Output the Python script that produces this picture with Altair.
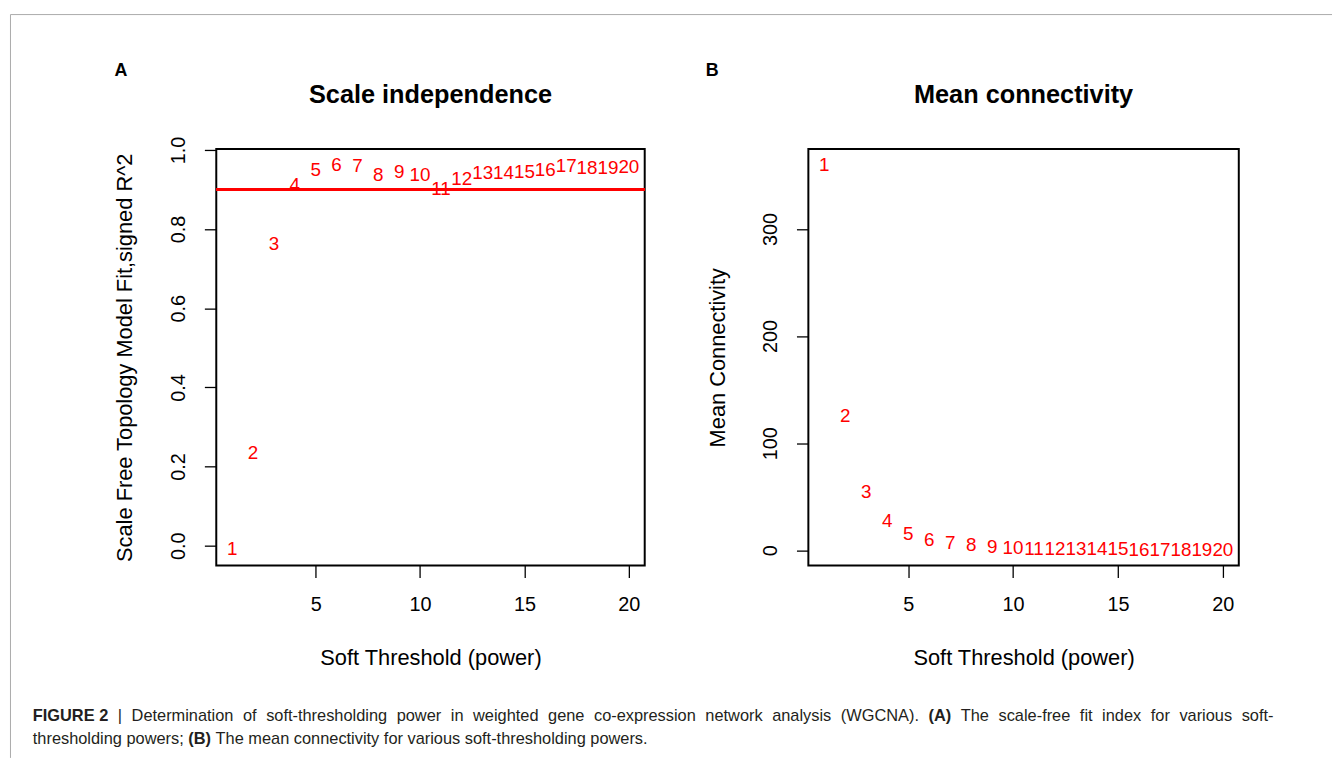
import altair as alt
import pandas as pd

# ---------------- data ----------------
powers = list(range(1, 21))
scale_free_r2 = [-0.008, 0.233, 0.762, 0.912, 0.950, 0.962, 0.960, 0.937, 0.945, 0.937,
                 0.900, 0.927, 0.942, 0.942, 0.945, 0.950, 0.960, 0.955, 0.955, 0.957]
mean_connectivity = [360, 125, 54, 27, 15.5, 10, 7, 4.5, 3, 2,
                     1.5, 1.2, 1.0, 0.8, 0.7, 0.6, 0.5, 0.4, 0.35, 0.3]
r2_cutoff = 0.9
x_ticks = [5, 10, 15, 20]
ya_ticks = [0.0, 0.2, 0.4, 0.6, 0.8, 1.0]
yb_ticks = [0, 100, 200, 300]
panel_tags = ["A", "B"]
panel_titles = ["Scale independence", "Mean connectivity"]
x_title = "Soft Threshold (power)"
ya_title = "Scale Free Topology Model Fit,signed R^2"
yb_title = "Mean Connectivity"
caption_line1 = [("FIGURE 2", True), ("|", False), ("Determination", False), ("of", False),
                 ("soft-thresholding", False), ("power", False), ("in", False), ("weighted", False),
                 ("gene", False), ("co-expression", False), ("network", False), ("analysis", False),
                 ("(WGCNA).", False), ("(A)", True), ("The", False), ("scale-free", False),
                 ("fit", False), ("index", False), ("for", False), ("various", False), ("soft-", False)]
caption_line2 = [("thresholding", False), ("powers;", False), ("(B)", True), ("The", False),
                 ("mean", False), ("connectivity", False), ("for", False), ("various", False),
                 ("soft-thresholding", False), ("powers.", False)]

# ---------------- layout ----------------
FONT = "Liberation Sans"
OX, OY = 217, 146          # page position of panel A plot area
WA, WB, H = 432, 434, 420
GAP = 165
RED = "#ff0000"

# Arial / Liberation Sans advance widths (per 1000 em)
REG_W = {" ": 278, "(": 333, ")": 333, ".": 278, ";": 278, "-": 333, "|": 260, ",": 278, "2": 556,
         "a": 556, "b": 556, "c": 500, "d": 556, "e": 556, "f": 278, "g": 556, "h": 556, "i": 222,
         "j": 222, "k": 500, "l": 222, "m": 833, "n": 556, "o": 556, "p": 556, "q": 556, "r": 333,
         "s": 500, "t": 278, "u": 556, "v": 500, "w": 722, "x": 500, "y": 500, "z": 500,
         "A": 667, "B": 667, "C": 722, "D": 722, "E": 667, "F": 611, "G": 778, "N": 722,
         "T": 611, "W": 944}
BOLD_W = {" ": 278, "(": 333, ")": 333, "2": 556, "A": 722, "B": 722, "E": 667, "F": 611,
          "G": 778, "I": 278, "R": 722, "U": 722}
CAP_FS = 16.5


def text_width(s, bold):
    table = BOLD_W if bold else REG_W
    return sum(table.get(ch, 556) for ch in s) * CAP_FS / 1000.0


def layout_line(words, x0, y0, x1=None):
    widths = [text_width(w, b) for w, b in words]
    gap = REG_W[" "] * CAP_FS / 1000.0
    if x1 is not None:
        gap = (x1 - x0 - sum(widths)) / (len(words) - 1)
    rows, x = [], x0
    for (w, b), wd in zip(words, widths):
        rows.append({"x": x - OX, "y": y0 - OY, "text": w, "bold": b})
        x += wd + gap
    return rows


cap_rows = layout_line(caption_line1, 32, 723, 1283) + layout_line(caption_line2, 32, 746)
cap_df = pd.DataFrame(cap_rows)
cap_reg = cap_df[~cap_df["bold"]].drop(columns="bold")
cap_bold = cap_df[cap_df["bold"]].drop(columns="bold")

x_scale = alt.Scale(domain=[0.24, 20.76], nice=False, zero=False)


def x_enc():
    return alt.X("power:Q", scale=x_scale,
                 axis=alt.Axis(values=x_ticks, title=x_title, titleY=93, titleBaseline="middle",
                               labelPadding=17))


def y_axis(vals, title, fmt):
    return alt.Axis(values=vals, title=title, format=fmt, labelAngle=270, labelAlign="center",
                    labelBaseline="middle", labelPadding=26, titleX=-92, titleBaseline="middle")


def label_chart(text, x, y, size, weight="bold"):
    return alt.Chart(pd.DataFrame({"t": [text]})).mark_text(
        font=FONT, fontSize=size, fontWeight=weight, color="black", align="center", baseline="middle"
    ).encode(x=alt.value(x), y=alt.value(y), text="t:N")


# ---------------- panel A ----------------
df_a = pd.DataFrame({"power": powers, "r2": scale_free_r2, "label": [str(p) for p in powers]})
points_a = alt.Chart(df_a).mark_text(font=FONT, fontSize=19, color=RED, align="center",
                                     baseline="middle").encode(
    x=x_enc(),
    y=alt.Y("r2:Q", scale=alt.Scale(domain=[-0.0501, 1.0025], nice=False, zero=False),
            axis=y_axis(ya_ticks, ya_title, ".1f")),
    text="label:N")
rule_a = alt.Chart(df_a).mark_rule(color=RED, strokeWidth=1.8).encode(y=alt.datum(r2_cutoff))
main_a = alt.layer(rule_a, points_a,
                   label_chart(panel_titles[0], WA / 2, 92 - OY, 25.5),
                   label_chart(panel_tags[0], 121 - OX, 67 - OY, 18))

ident = alt.Scale(domain=[0, 1000], range=[0, 1000])
cap_style = dict(font=FONT, fontSize=CAP_FS, color="#231f20", align="left", baseline="alphabetic")
cap_reg_chart = alt.Chart(cap_reg).mark_text(**cap_style).encode(
    x=alt.X("x:Q", scale=ident, axis=None), y=alt.Y("y:Q", scale=ident, axis=None), text="text:N")
cap_bold_chart = alt.Chart(cap_bold).mark_text(fontWeight="bold", **cap_style).encode(
    x=alt.X("x:Q", scale=ident, axis=None), y=alt.Y("y:Q", scale=ident, axis=None), text="text:N")
frame_df = pd.DataFrame({"k": [0]})
frame_top = alt.Chart(frame_df).mark_rule(color="#aaaaaa", strokeWidth=1).encode(
    x=alt.value(9.5 - OX), x2=alt.value(1342 - OX), y=alt.value(10.5 - OY))
frame_left = alt.Chart(frame_df).mark_rule(color="#aaaaaa", strokeWidth=1).encode(
    x=alt.value(9.5 - OX), y=alt.value(10.5 - OY), y2=alt.value(760 - OY))
caption = alt.layer(cap_reg_chart, cap_bold_chart, frame_top, frame_left)

panel_a = alt.layer(main_a, caption).resolve_scale(x="independent", y="independent").properties(
    width=WA, height=H)

# ---------------- panel B ----------------
OXB = OX + WA + GAP
df_b = pd.DataFrame({"power": powers, "k": mean_connectivity, "label": [str(p) for p in powers]})
points_b = alt.Chart(df_b).mark_text(font=FONT, fontSize=19, color=RED, align="center",
                                     baseline="middle").encode(
    x=x_enc(),
    y=alt.Y("k:Q", scale=alt.Scale(domain=[-14.2, 374.7], nice=False, zero=False),
            axis=y_axis(yb_ticks, yb_title, "d")),
    text="label:N")
panel_b = alt.layer(points_b,
                    label_chart(panel_titles[1], WB / 2, 92 - OY, 25.5),
                    label_chart(panel_tags[1], 717 - OXB, 67 - OY, 18)).properties(width=WB, height=H)

chart = alt.hconcat(panel_a, panel_b, spacing=GAP, bounds="flush").properties(
    padding={"left": 1, "top": 2, "right": 0, "bottom": 0}
).configure_view(stroke="black", strokeWidth=2).configure_axis(
    domain=False, grid=False, ticks=True, tickColor="black", tickWidth=1.3, tickSize=12,
    labelFont=FONT, labelFontSize=20, labelColor="black", labelFlush=False, labelOverlap=False,
    titleFont=FONT, titleFontSize=22, titleFontWeight="normal", titleColor="black"
)

chart.save("out.html", embed_options={"renderer": "svg", "actions": False})
